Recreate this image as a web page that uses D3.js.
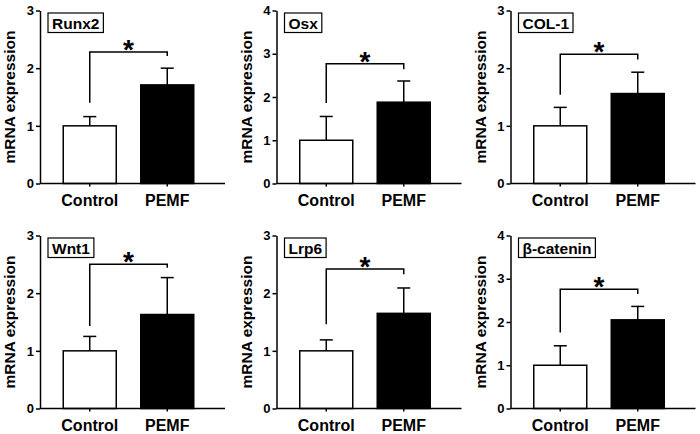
<!DOCTYPE html>
<html>
<head>
<meta charset="utf-8">
<script src="https://cdn.jsdelivr.net/npm/d3@7"></script>
<style>
  body { margin: 0; background: #fff; }
  svg { display: block; font-family: "Liberation Sans", Arial, sans-serif; font-weight: bold; }
</style>
</head>
<body>
<script>
const width = 700;
const height = 434;

// data
const genes = ["Runx2", "Osx", "COL-1", "Wnt1", "Lrp6", "β-catenin"];
const groups = ["Control", "PEMF"];
const yMax = [3, 4, 3, 3, 3, 4];
const controlMean = [1, 1, 1, 1, 1, 1];
const controlErr = [0.16, 0.55, 0.32, 0.25, 0.19, 0.45];
const pemfMean = [1.71, 1.88, 1.56, 1.63, 1.65, 2.05];
const pemfErr = [0.29, 0.49, 0.37, 0.64, 0.44, 0.31];
// significance bracket: bar height, left leg end, right leg end
const bracketTop = [2.28, 2.77, 2.24, 2.50, 2.42, 2.76];
const bracketLeft = [1.40, 1.86, 1.54, 1.43, 1.46, 1.76];
const bracketRight = [2.21, 2.64, 2.15, 2.44, 2.33, 2.65];

const colX = [40, 276.5, 510.5];
const rowTop = [10.5, 235.5];
const plotH = 173;
const axisW = 185;

const svg = d3.select(document.body)
  .append("svg")
  .attr("width", width)
  .attr("height", height);

genes.forEach((gene, i) => {
  const x0 = colX[i % 3];
  const y0 = rowTop[Math.floor(i / 3)];
  const g = svg.append("g").attr("transform", "translate(" + x0 + "," + y0 + ")");

  const y = d3.scaleLinear().domain([0, yMax[i]]).range([plotH, 0]);
  const x = d3.scaleBand().domain(groups).range([0, 177]).paddingInner(0.316).paddingOuter(0.3);

  const bars = [
    { group: "Control", mean: controlMean[i], err: controlErr[i], fill: "#fff" },
    { group: "PEMF", mean: pemfMean[i], err: pemfErr[i], fill: "#000" }
  ];

  // error bars (upper only)
  const eb = g.append("g").attr("stroke", "#000").attr("stroke-width", 1.5);
  eb.selectAll("line.v").data(bars).join("line")
    .attr("class", "v")
    .attr("x1", d => x(d.group) + x.bandwidth() / 2)
    .attr("x2", d => x(d.group) + x.bandwidth() / 2)
    .attr("y1", d => y(d.mean))
    .attr("y2", d => y(d.mean + d.err));
  eb.selectAll("line.c").data(bars).join("line")
    .attr("class", "c")
    .attr("x1", d => x(d.group) + x.bandwidth() / 2 - 6.5)
    .attr("x2", d => x(d.group) + x.bandwidth() / 2 + 6.5)
    .attr("y1", d => y(d.mean + d.err))
    .attr("y2", d => y(d.mean + d.err));

  g.selectAll("rect.bar").data(bars).join("rect")
    .attr("class", "bar")
    .attr("x", d => x(d.group))
    .attr("y", d => y(d.mean))
    .attr("width", x.bandwidth())
    .attr("height", d => plotH - y(d.mean))
    .attr("fill", d => d.fill)
    .attr("stroke", "#000")
    .attr("stroke-width", 1.5);

  // y axis
  const ya = g.append("g")
    .call(d3.axisLeft(y).ticks(yMax[i]).tickFormat(d3.format("d")).tickSize(4).tickSizeOuter(0).tickPadding(2));
  ya.select(".domain").attr("stroke-width", 1.5);
  ya.selectAll(".tick line").attr("stroke-width", 1.5);
  ya.selectAll(".tick text").attr("font-size", 13).attr("font-family", null).attr("fill", "#000");

  // x axis
  const xa = g.append("g")
    .attr("transform", "translate(0," + plotH + ")")
    .call(d3.axisBottom(x).tickSize(3).tickSizeOuter(0).tickPadding(8));
  xa.select(".domain").attr("d", "M0,0H" + axisW).attr("stroke-width", 1.5);
  xa.selectAll(".tick line").attr("stroke-width", 1.5);
  xa.selectAll(".tick text").attr("font-size", 16).attr("font-family", null).attr("fill", "#000");

  // y label
  g.append("text")
    .attr("transform", "translate(-25," + plotH / 2 + ") rotate(-90)")
    .attr("text-anchor", "middle")
    .attr("font-size", 15.5)
    .text("mRNA expression");

  // significance bracket
  const cx0 = x("Control") + x.bandwidth() / 2;
  const cx1 = x("PEMF") + x.bandwidth() / 2;
  g.append("path")
    .attr("fill", "none")
    .attr("stroke", "#000")
    .attr("stroke-width", 1.5)
    .attr("d", "M" + cx0 + "," + y(bracketLeft[i]) + "V" + y(bracketTop[i]) + "H" + cx1 + "V" + y(bracketRight[i]));
  g.append("text")
    .attr("x", (cx0 + cx1) / 2)
    .attr("y", y(bracketTop[i]) + 7)
    .attr("text-anchor", "middle")
    .attr("font-size", 28)
    .text("*");

  // gene title box
  const tb = g.append("g").attr("transform", "translate(8,2.5)");
  const rect = tb.append("rect").attr("height", 19.5).attr("fill", "#fff")
    .attr("stroke", "#000").attr("stroke-width", 1.2);
  const t = tb.append("text").attr("x", 4).attr("y", 15.5).attr("font-size", 15.5).text(gene);
  rect.attr("width", t.node().getComputedTextLength() + 8);
});
</script>
</body>
</html>
